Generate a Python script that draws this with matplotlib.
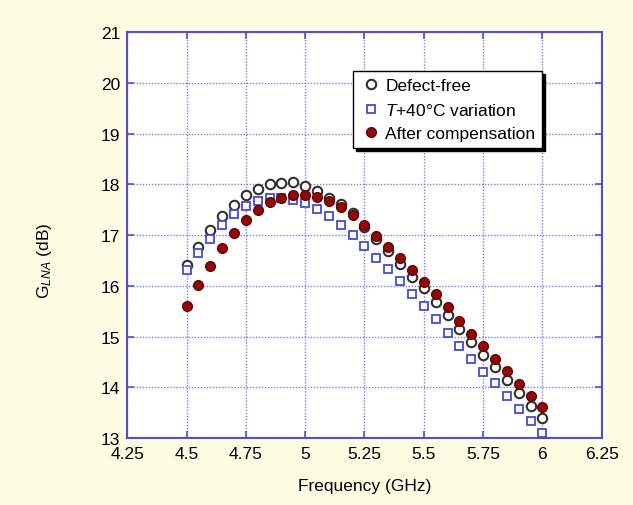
import matplotlib
matplotlib.use("Agg")
import matplotlib.pyplot as plt

plt.rcParams['font.family'] = ['Liberation Sans', 'DejaVu Sans']
plt.rcParams['mathtext.fontset'] = 'custom'
plt.rcParams['mathtext.rm'] = 'Liberation Sans'
plt.rcParams['mathtext.it'] = 'Liberation Sans:italic'

freq = [4.50, 4.55, 4.60, 4.65, 4.70, 4.75, 4.80, 4.85, 4.90, 4.95,
        5.00, 5.05, 5.10, 5.15, 5.20, 5.25, 5.30, 5.35, 5.40, 5.45,
        5.50, 5.55, 5.60, 5.65, 5.70, 5.75, 5.80, 5.85, 5.90, 5.95, 6.00]

defect_free = [16.42, 16.76, 17.10, 17.38, 17.60, 17.79, 17.91, 18.01, 18.03, 18.04,
               17.97, 17.87, 17.74, 17.61, 17.43, 17.17, 16.93, 16.68, 16.44, 16.17,
               15.95, 15.69, 15.42, 15.15, 14.90, 14.64, 14.40, 14.15, 13.88, 13.64, 13.40]

t40_variation = [16.32, 16.64, 16.93, 17.21, 17.42, 17.58, 17.68, 17.73, 17.74, 17.70,
                 17.64, 17.52, 17.37, 17.21, 17.00, 16.78, 16.55, 16.33, 16.09, 15.83,
                 15.60, 15.35, 15.08, 14.82, 14.56, 14.31, 14.08, 13.82, 13.58, 13.33, 13.09]

after_comp = [15.60, 16.01, 16.39, 16.74, 17.05, 17.29, 17.50, 17.65, 17.74, 17.79,
              17.79, 17.76, 17.68, 17.55, 17.40, 17.21, 16.99, 16.77, 16.55, 16.32,
              16.07, 15.83, 15.58, 15.31, 15.06, 14.81, 14.56, 14.33, 14.07, 13.82, 13.61]

xticks = [4.25, 4.5, 4.75, 5, 5.25, 5.5, 5.75, 6, 6.25]
xticklabels = ['4.25', '4.5', '4.75', '5', '5.25', '5.5', '5.75', '6', '6.25']
yticks = [13, 14, 15, 16, 17, 18, 19, 20, 21]

labels = ['Defect-free', r'$\mathit{T}$+40°C variation', 'After compensation']

bg = '#FFFDE4'
blue = '#4F4FD0'
fs = 12.5
fig = plt.figure(figsize=(6.33, 5.06), dpi=100, facecolor=bg)
ax = fig.add_axes([0.201, 0.1324, 0.7496, 0.8018])
ax.set_facecolor('white')

ax.plot(freq, defect_free, linestyle='none', marker='o', markersize=6.8,
        markerfacecolor='white', markeredgecolor='#303030', markeredgewidth=1.5,
        label=labels[0], zorder=3)
ax.plot(freq, t40_variation, linestyle='none', marker='s', markersize=6.0,
        markerfacecolor='white', markeredgecolor='#4848D8', markeredgewidth=1.3,
        label=labels[1], zorder=4)
ax.plot(freq, after_comp, linestyle='none', marker='o', markersize=7.0,
        markerfacecolor='#8E0A0A', markeredgecolor='#6E0000', markeredgewidth=1.0,
        label=labels[2], zorder=5)

ax.set_xlim(4.25, 6.25)
ax.set_ylim(13, 21)
ax.set_xticks(xticks)
ax.set_xticklabels(xticklabels)
ax.set_yticks(yticks)

ax.grid(True, color='#7070E2', linestyle=(0, (1, 1.2)), linewidth=1.0, alpha=0.9)
ax.set_axisbelow(True)
for s in ax.spines.values():
    s.set_color(blue)
    s.set_linewidth(1.5)
ax.tick_params(direction='in', length=5, width=1.2, color=blue,
               top=True, right=True, labelsize=fs, labelcolor='black')
ax.tick_params(axis='x', pad=6)
ax.tick_params(axis='y', pad=5)

ax.set_xlabel('Frequency (GHz)', fontsize=fs, labelpad=12)
ax.set_ylabel(r'G$_{\mathit{LNA}}$ (dB)', fontsize=fs)
ax.yaxis.set_label_coords(-0.155, 0.44)

leg = ax.legend(loc='upper left', bbox_to_anchor=(0.476, 0.905), fontsize=fs,
                frameon=True, fancybox=False, edgecolor='black', framealpha=1,
                shadow={'color': 'black', 'alpha': 1.0},
                handlelength=1.3, handletextpad=0.15, labelspacing=0.5,
                borderpad=0.4, borderaxespad=0.0)
leg.get_frame().set_linewidth(1.0)

fig.savefig('out.png', dpi=100, facecolor=bg)
